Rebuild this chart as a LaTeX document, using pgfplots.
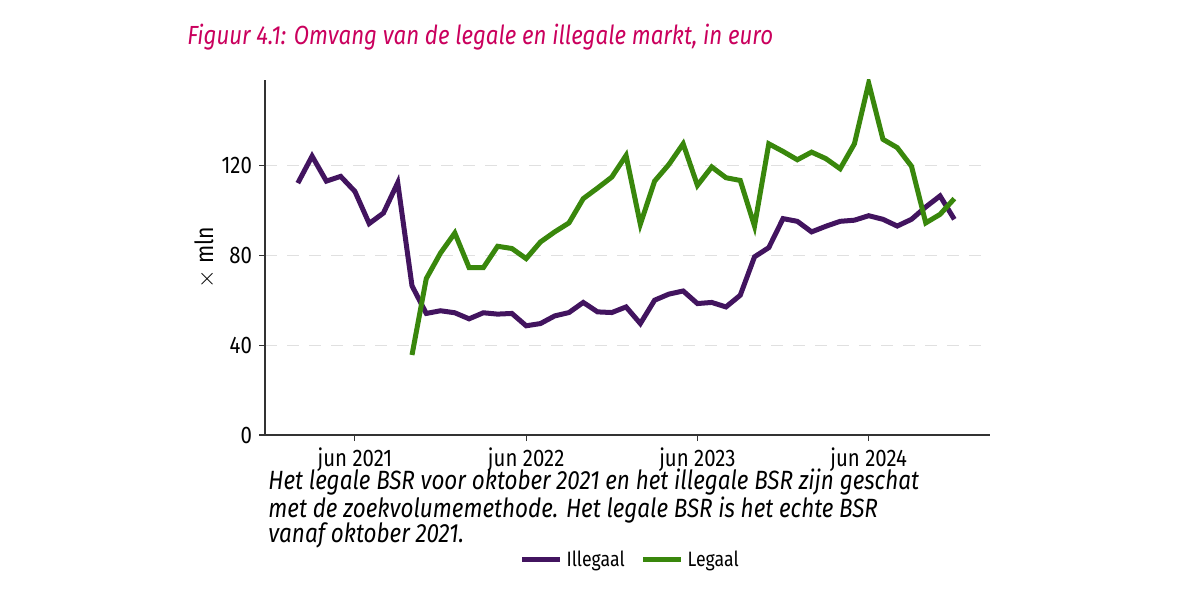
\documentclass[border=0pt]{standalone}
\usepackage{fontspec}
\setmainfont{Fira Sans}[FakeStretch=0.85]
\usepackage{pgfplots}
\pgfplotsset{compat=1.18}
\definecolor{illegaal}{HTML}{42145F}
\definecolor{legaal}{HTML}{39870C}
\definecolor{titel}{HTML}{CA005D}

\begin{document}
\begin{tikzpicture}[x=0.5pt,y=0.5pt]
\path[use as bounding box] (0,0) rectangle (1200,600);

\begin{axis}[%
  at={(132.5pt,82.5pt)}, anchor=south west,%
  scale only axis, width=362.5pt, height=177.5pt,%
  xmin=-1.3, xmax=49.5, ymin=0, ymax=158,%
  axis x line*=bottom, axis y line*=left,%
  axis line style={draw=black!80, line width=0.7pt},%
  xtick={5,17,29,41},%
  xticklabels={jun 2021, jun 2022, jun 2023, jun 2024},%
  ytick={0,40,80,120},%
  ymajorgrids, grid style={dash pattern=on 6pt off 5pt, black!12, line width=0.6pt},%
  tick align=outside, major tick length=3pt,%
  tick style={black!80, line width=0.5pt},%
  /pgf/number format/assume math mode=true,%
  ticklabel style={font=\fontsize{12}{14}\selectfont},%
  ylabel={$\times$ mln},%
  ylabel style={at={(axis description cs:-0.083,0.5)}, anchor=center, font=\fontsize{12.5}{14}\selectfont},%
  legend columns=2,%
  legend style={at={(axis description cs:0.505,-0.352)}, anchor=center, draw=none, fill=none,%
    font=\fontsize{10.4}{12}\selectfont, /tikz/every even column/.append style={column sep=6pt}},%
  legend image code/.code={\draw[#1, line width=2.5pt] (0pt,0pt) -- (13.5pt,0pt);
    \path (0pt,0pt) -- (19pt,0pt);},%
  every axis plot/.append style={line width=2.5pt},%
]
\addplot[illegaal] coordinates {
  (1,112.1) (2,124.1) (3,113.0) (4,115.1) (5,108.4) (6,94.1) (7,98.8) (8,112.3)
  (9,66.4) (10,54.1) (11,55.3) (12,54.4) (13,51.7) (14,54.4) (15,53.8) (16,54.1)
  (17,48.6) (18,49.6) (19,53.0) (20,54.5) (21,59.0) (22,54.8) (23,54.5) (24,57.0)
  (25,49.6) (26,60.0) (27,62.7) (28,64.1) (29,58.5) (30,59.0) (31,57.0) (32,62.2)
  (33,79.3) (34,83.4) (35,96.3) (36,95.1) (37,90.4) (38,92.9) (39,95.1) (40,95.6)
  (41,97.6) (42,96.0) (43,93.0) (44,96.0) (45,101.5) (46,106.4) (47,96.0)
};
\addlegendentry{Illegaal}
\addplot[legaal] coordinates {
  (9,35.6) (10,69.6) (11,81.0) (12,89.9) (13,74.5) (14,74.5) (15,84.0) (16,83.0)
  (17,78.5) (18,85.9) (19,90.4) (20,94.4) (21,105.2) (22,109.9) (23,114.8) (24,124.4)
  (25,93.8) (26,113.0) (27,120.4) (28,129.6) (29,111.1) (30,119.3) (31,114.5) (32,113.3)
  (33,93.0) (34,129.6) (35,126.2) (36,122.5) (37,125.9) (38,123.0) (39,118.5) (40,129.6)
  (41,156.6) (42,131.6) (43,127.9) (44,119.6) (45,94.4) (46,98.2) (47,105.2)
};
\addlegendentry{Legaal}
\end{axis}

\node[anchor=base west, inner sep=0pt, text=titel, font=\fontsize{13.1}{15}\selectfont\itshape]
  at (187,555) {Figuur 4.1: Omvang van de legale en illegale markt, in euro};
\begin{scope}[every node/.style={anchor=base west, inner sep=0pt, font=\fontsize{13.2}{15}\selectfont\itshape}]
\node at (268,110) {Het legale BSR voor oktober 2021 en het illegale BSR zijn geschat};
\node at (268,83) {met de zoekvolumemethode. Het legale BSR is het echte BSR};
\node at (268,57) {vanaf oktober 2021.};
\end{scope}
\end{tikzpicture}
\end{document}
